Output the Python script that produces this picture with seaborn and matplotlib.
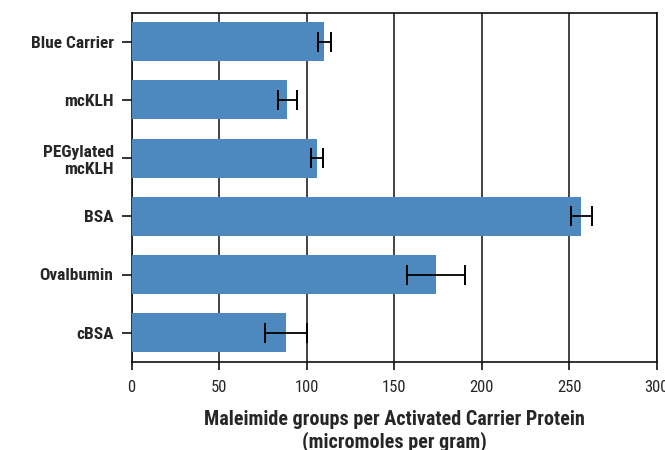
import seaborn as sns
import matplotlib.pyplot as plt
import pandas as pd
from matplotlib import font_manager

# values
carriers = ['Blue Carrier', 'mcKLH', 'PEGylated\nmcKLH', 'BSA', 'Ovalbumin', 'cBSA']
maleimide = [110, 89, 106, 257, 174, 88]
errors = [3.7, 5.5, 3.5, 6, 16.4, 12]
x_ticks = [0, 50, 100, 150, 200, 250, 300]

bar_color = '#4D89BE'

sns.set_theme(style='white')

# condensed face is closest to the original lettering
installed = {f.name for f in font_manager.fontManager.ttflist}
if 'Roboto Condensed' in installed:
    plt.rcParams['font.family'] = ['Roboto Condensed', 'DejaVu Sans']
    label_size = 12.5
else:
    plt.rcParams['font.family'] = ['DejaVu Sans']
    label_size = 10

df = pd.DataFrame({'carrier': carriers, 'value': maleimide, 'err': errors})

fig = plt.figure(figsize=(6.65, 4.5), dpi=100)
ax = fig.add_axes([0.198, 0.196, 0.7895, 0.776])

sns.barplot(data=df, x='value', y='carrier', orient='h', color=bar_color,
            saturation=1, width=0.67, errorbar=None, linewidth=0, ax=ax, zorder=3)

# error bars from the listed errors
ax.errorbar(df['value'], range(len(df)), xerr=df['err'], fmt='none',
            ecolor='black', elinewidth=1.3, capsize=7.5, capthick=1.4, zorder=4)

ax.set_xlim(0, 300)
ax.set_ylim(5.5, -0.5)
ax.set_xticks(x_ticks)
ax.set_xticklabels([str(t) for t in x_ticks], fontsize=12)
ax.set_yticks(range(len(carriers)))
ax.set_yticklabels(carriers, fontsize=label_size, fontweight='bold')

# vertical black gridlines behind the bars
ax.grid(axis='x', color='#222222', linewidth=1.2, zorder=0)
ax.set_axisbelow(True)

for side in ['left', 'right', 'top', 'bottom']:
    ax.spines[side].set_visible(True)
    ax.spines[side].set_color('#111111')
    ax.spines[side].set_linewidth(1.2)

ax.tick_params(axis='y', left=True, length=7, width=1.2, color='#111111', pad=6)
ax.tick_params(axis='x', bottom=True, length=6, width=1.2, color='#111111', pad=7)

ax.set_ylabel('')
ax.set_xlabel('Maleimide groups per Activated Carrier Protein\n(micromoles per gram)',
              fontsize=14.5, fontweight='bold', labelpad=11, linespacing=1.15)

plt.savefig('out.png', dpi=100)
